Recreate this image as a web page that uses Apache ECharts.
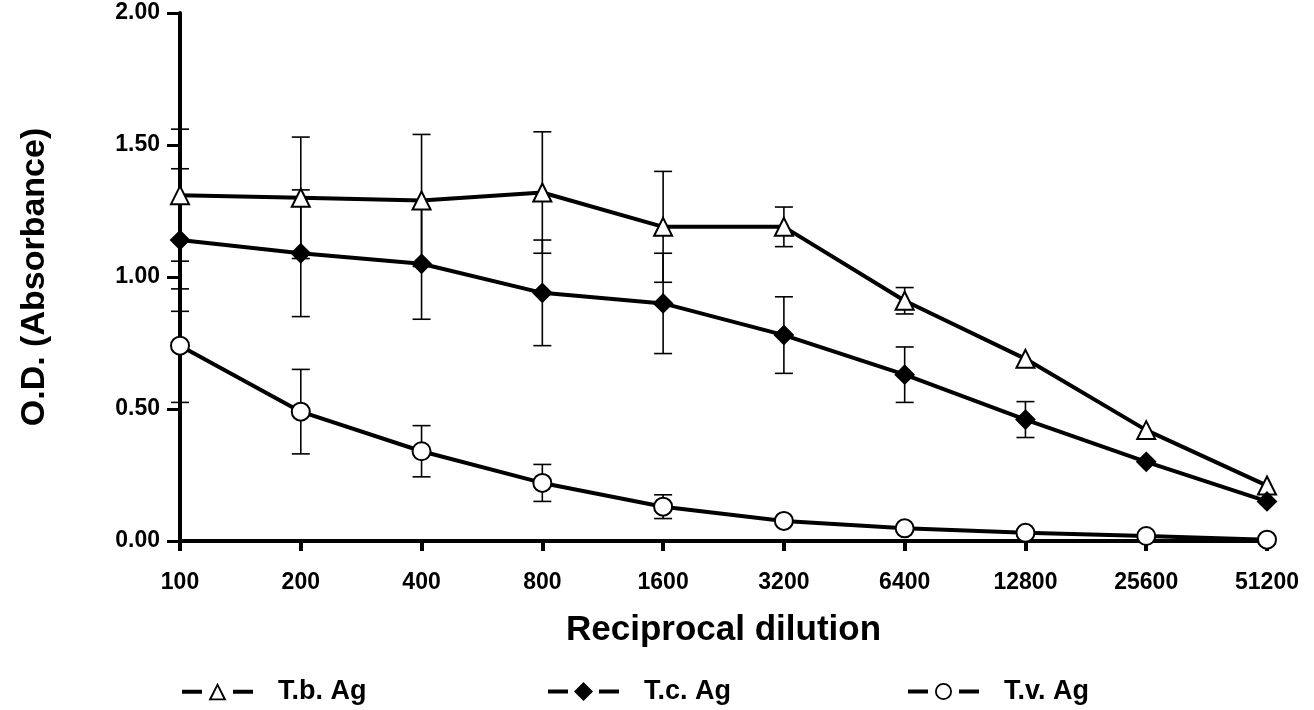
<!DOCTYPE html>
<html><head><meta charset="utf-8">
<script src="https://cdn.jsdelivr.net/npm/echarts@6/dist/echarts.min.js"></script>
<style>html,body{margin:0;padding:0;background:#fff}#c{width:1314px;height:710px}</style>
</head><body><div id="c"></div>
<script>
const categories = ['100','200','400','800','1600','3200','6400','12800','25600','51200'];
const yTicks = [0, 0.5, 1.0, 1.5, 2.0];
const tb = [1.31, 1.30, 1.29, 1.32, 1.19, 1.19, 0.91, 0.69, 0.42, 0.21];
const tbErr = [0.25, 0.23, 0.25, 0.23, 0.21, 0.075, 0.05, 0, 0, 0];
const tc = [1.14, 1.09, 1.05, 0.94, 0.90, 0.78, 0.63, 0.46, 0.30, 0.15];
const tcErr = [0.27, 0.24, 0.21, 0.20, 0.19, 0.145, 0.105, 0.068, 0, 0];
const tv = [0.74, 0.49, 0.34, 0.22, 0.13, 0.076, 0.048, 0.031, 0.019, 0.005];
const tvErr = [0.215, 0.16, 0.097, 0.07, 0.045, 0, 0, 0, 0, 0];
const names = ['T.b. Ag', 'T.c. Ag', 'T.v. Ag'];

const FONT = "'Liberation Sans', Arial, Helvetica, sans-serif";

const DASHES = 'M0 7.5 H20 V11.5 H0 Z M51 7.5 H71 V11.5 H51 Z ';
const legendIcons = [
  'path://' + DASHES + 'M35.5 0.5 L44.5 18 L26.5 18 Z M35.5 4.4 L29.7 16.2 L41.3 16.2 Z',
  'path://' + DASHES + 'M35.5 0 L45 9.5 L35.5 19 L26 9.5 Z',
  'path://' + DASHES + 'M44 9.5 A8.5 8.5 0 1 0 27 9.5 A8.5 8.5 0 1 0 44 9.5 Z M42.2 9.5 A6.7 6.7 0 1 1 28.8 9.5 A6.7 6.7 0 1 1 42.2 9.5 Z'
];

function errData(vals, errs) {
  const out = [];
  vals.forEach((v, i) => { if (errs[i] > 0) out.push([i, v - errs[i], v + errs[i]]); });
  return out;
}
function errSeries(vals, errs) {
  return {
    type: 'custom', z: 1, silent: true,
    data: errData(vals, errs),
    renderItem: function (params, api) {
      const x = api.value(0);
      const lo = api.coord([x, api.value(1)]);
      const hi = api.coord([x, api.value(2)]);
      const hw = 9;
      const st = { stroke: '#000', lineWidth: 1.6 };
      return { type: 'group', children: [
        { type: 'line', shape: { x1: lo[0], y1: lo[1], x2: hi[0], y2: hi[1] }, style: st },
        { type: 'line', shape: { x1: lo[0] - hw, y1: lo[1], x2: lo[0] + hw, y2: lo[1] }, style: st },
        { type: 'line', shape: { x1: hi[0] - hw, y1: hi[1], x2: hi[0] + hw, y2: hi[1] }, style: st }
      ]};
    }
  };
}
function lineSeries(name, vals, symbol, size, fill) {
  return {
    name: name, type: 'line', data: vals, z: 3,
    symbol: symbol, symbolSize: size, showAllSymbol: true,
    lineStyle: { color: '#000', width: 4 },
    itemStyle: { color: fill, borderColor: '#000', borderWidth: 2 },
    emphasis: { disabled: true }
  };
}
function legendAt(left, idx) {
  return {
    left: left, top: 673, itemWidth: 71, itemHeight: 19, selectedMode: false,
    data: [{ name: names[idx], icon: legendIcons[idx], itemStyle: { color: '#000', borderWidth: 0 } }],
    textStyle: { fontFamily: FONT, fontWeight: 'bold', fontSize: 27, color: '#000', padding: [0, 0, 0, 20] }
  };
}
const chart = echarts.init(document.getElementById('c'), null, { renderer: 'canvas' });
chart.setOption({
  animation: false,
  backgroundColor: '#fff',
  grid: { left: 180, right: 47, top: 13, bottom: 169 },
  legend: [legendAt(177, 0), legendAt(543, 1), legendAt(903, 2)],
  xAxis: {
    type: 'category', data: categories, boundaryGap: false,
    name: 'Reciprocal dilution', nameLocation: 'middle', nameGap: 72,
    nameTextStyle: { fontFamily: FONT, fontWeight: 'bold', fontSize: 35, color: '#000' },
    axisLine: { lineStyle: { color: '#000', width: 4 } },
    axisTick: { length: 10, lineStyle: { width: 4, color: '#000' } },
    axisLabel: { fontFamily: FONT, fontWeight: 'bold', fontSize: 23, color: '#000', margin: 30 },
    splitLine: { show: false }
  },
  yAxis: {
    type: 'value', min: 0, max: 2, interval: 0.5,
    name: 'O.D. (Absorbance)', nameLocation: 'middle', nameGap: 128,
    nameTextStyle: { fontFamily: FONT, fontWeight: 'bold', fontSize: 34, color: '#000' },
    axisLine: { show: true, lineStyle: { color: '#000', width: 4 } },
    axisTick: { show: true, length: 13, lineStyle: { width: 3, color: '#000' } },
    axisLabel: { fontFamily: FONT, fontWeight: 'bold', fontSize: 23, color: '#000', margin: 20,
      formatter: v => yTicks.includes(v) ? v.toFixed(2) : '' },
    splitLine: { show: false }
  },
  series: [
    errSeries(tb, tbErr), errSeries(tc, tcErr), errSeries(tv, tvErr),
    lineSeries(names[0], tb, 'triangle', 18, '#fff'),
    lineSeries(names[1], tc, 'diamond', 18, '#000'),
    lineSeries(names[2], tv, 'circle', 18, '#fff')
  ]
});
</script></body></html>
